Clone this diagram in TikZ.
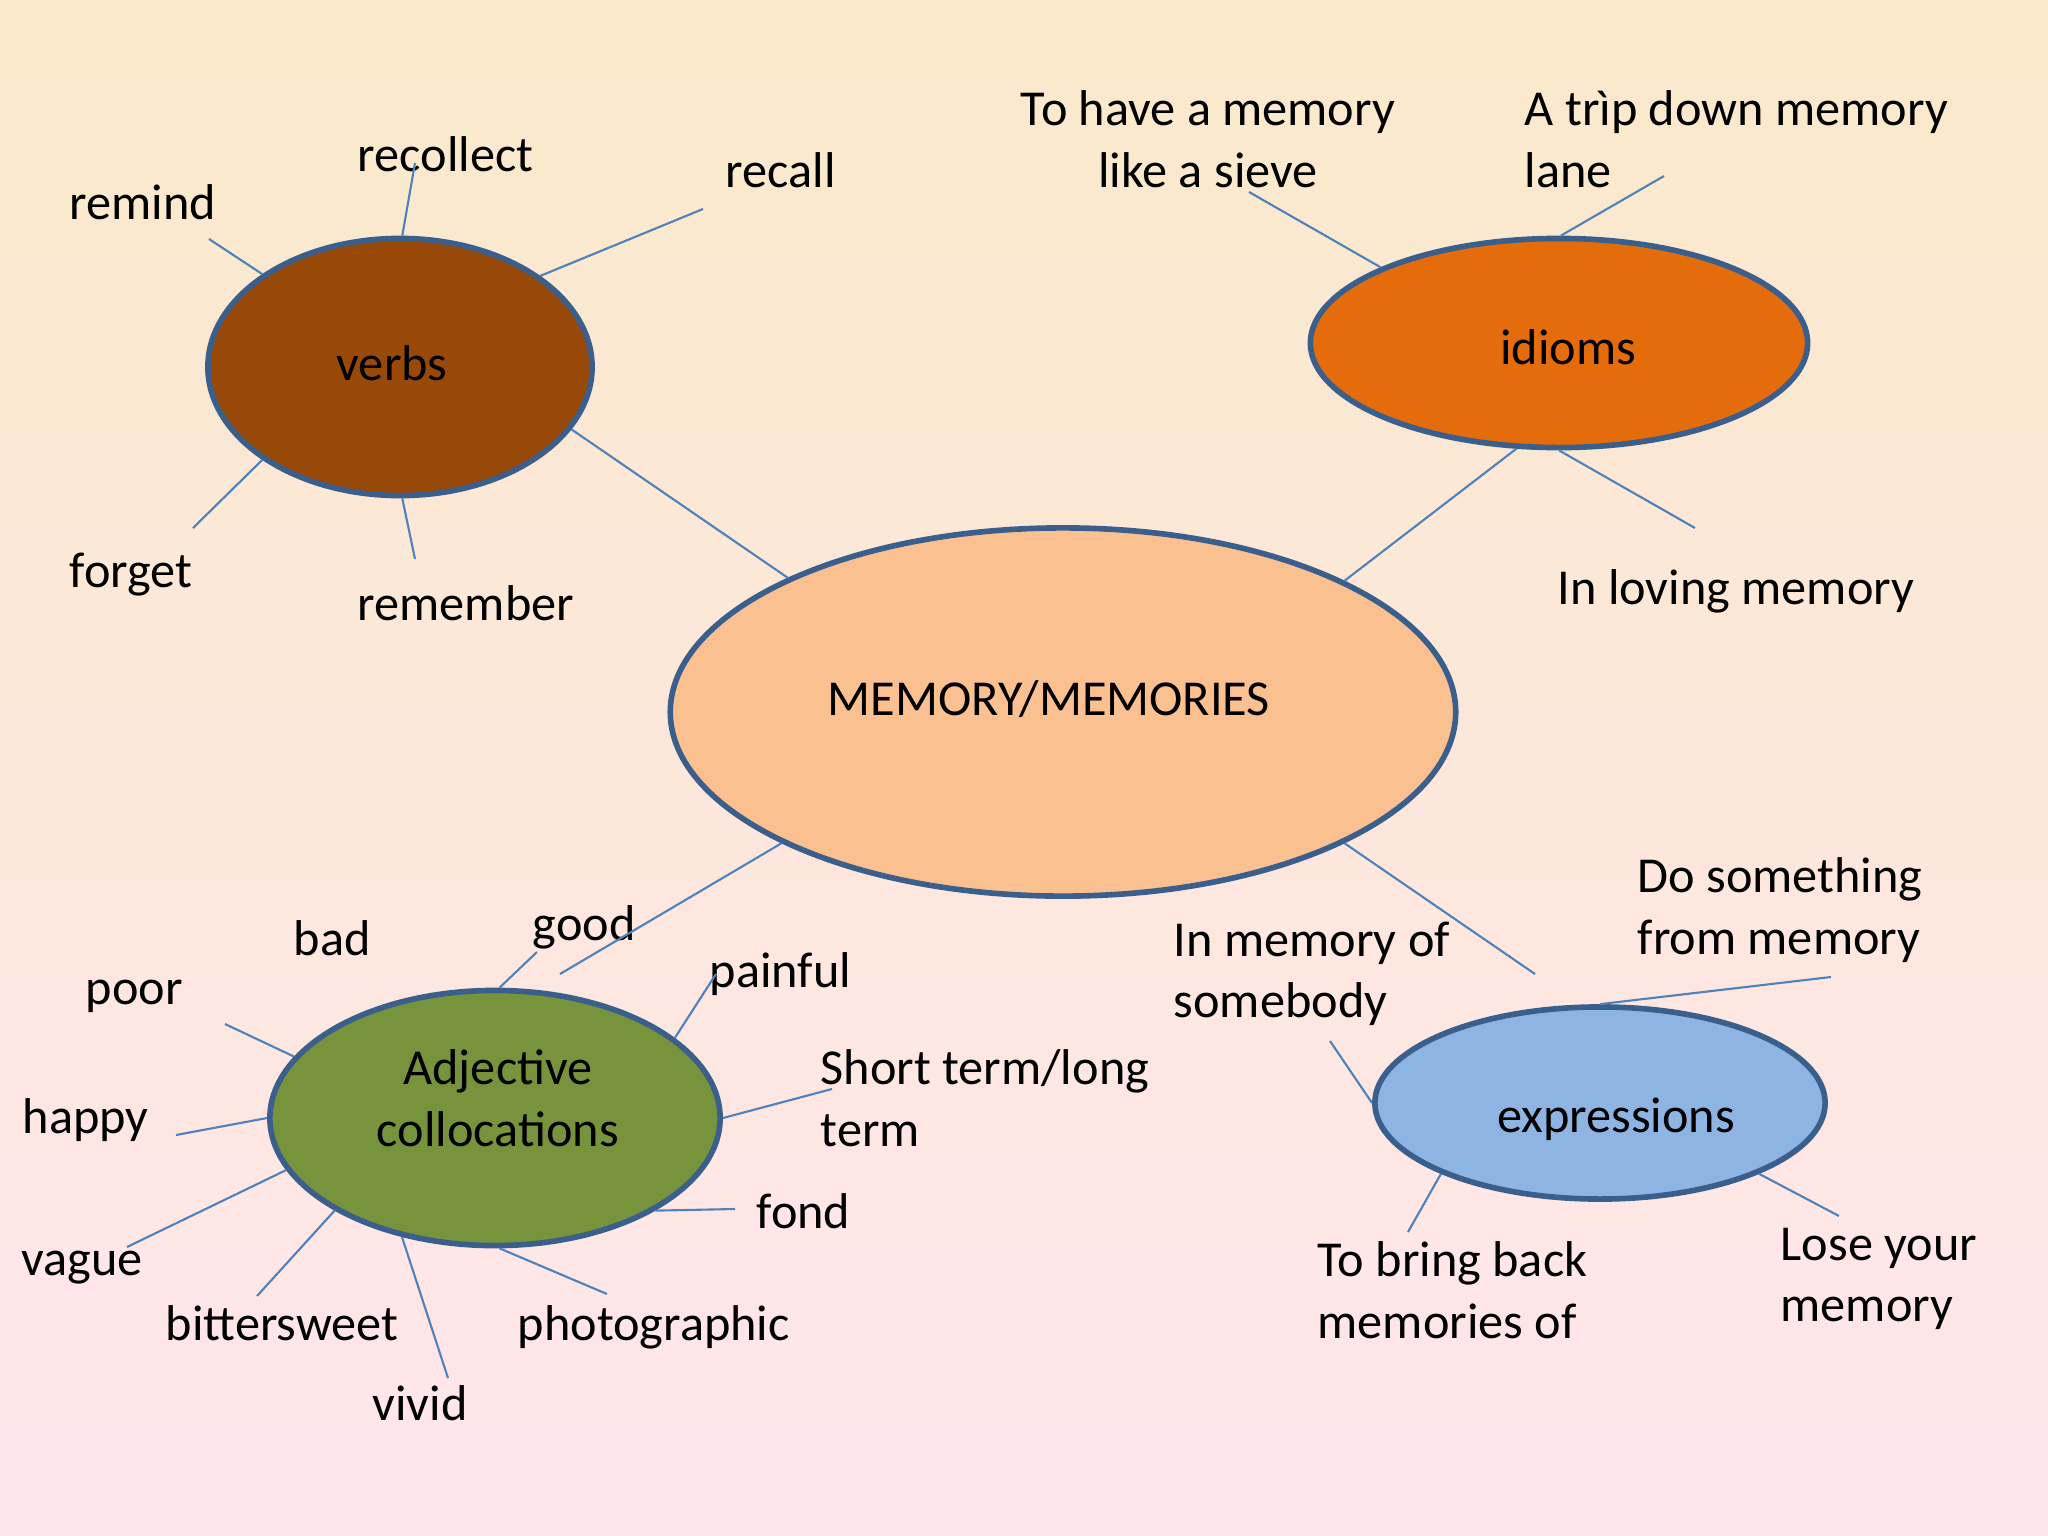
\documentclass[tikz,border=0pt]{standalone}
\usepackage{fontspec}
\setmainfont{Carlito}
\usepackage{tikz}
\usetikzlibrary{shapes.geometric}

\definecolor{bgtop}{HTML}{FAE9CA}
\definecolor{bgbot}{HTML}{FFE6EC}
\definecolor{rim}{HTML}{3A5F8C}
\definecolor{spokeblue}{HTML}{4F81BD}
\definecolor{memfill}{HTML}{FAC090}
\definecolor{verbfill}{HTML}{984807}
\definecolor{idiomfill}{HTML}{E46C0A}
\definecolor{adjfill}{HTML}{77933C}
\definecolor{exprfill}{HTML}{8EB4E3}
\newcommand\wordsize{\fontsize{14.3}{17.5}\selectfont}

\begin{document}
\begin{tikzpicture}[x=0.01cm, y=-0.01cm,
            bubble/.style={draw=rim, line width=1.6pt, ellipse, inner sep=0pt},
            title/.style={inner sep=0pt, align=center, font=\wordsize},
            spoke/.style={draw=spokeblue, line width=0.6pt},
            word/.style={anchor=west, inner sep=0pt, align=left, font=\wordsize}
        ]

        % --- background ---
        \shade[top color=bgtop, bottom color=bgbot] (0,0) rectangle (2048,1536);
        \useasboundingbox (0,0) rectangle (2048,1536);

        % --- bubbles ---
        \node[bubble, fill=memfill, minimum width=7.85cm, minimum height=3.68cm] (mem) at (1063,712) {};
        \node[bubble, fill=verbfill, minimum width=3.84cm, minimum height=2.57cm] (verbs) at (400,367) {};
        \node[bubble, fill=idiomfill, minimum width=4.97cm, minimum height=2.09cm] (idioms) at (1559,343) {};
        \node[bubble, fill=adjfill, minimum width=4.50cm, minimum height=2.55cm] (adj) at (495,1118) {};
        \node[bubble, fill=exprfill, minimum width=4.50cm, minimum height=1.92cm] (expr) at (1600,1103) {};
        \node[title] (memtext) at (1049,699) {MEMORY/MEMORIES};
        \node[title] (verbstext) at (392,363) {verbs};
        \node[title] (idiomstext) at (1568,347) {idioms};
        \node[title] (adjtext) at (498,1098) {Adjective\\collocations};
        \node[title] (exprtext) at (1616,1119) {expressions};

        % --- verbs ---
        \node[word] (remind) at (69,202) {remind};
        \node[word] (recollect) at (357,154) {recollect};
        \node[word] (recall) at (725,170) {recall};
        \node[word] (forget) at (69,575) {forget};
        \node[word] (remember) at (357,603) {remember};
        \coordinate (remindend) at (209,239);
        \coordinate (recollectend) at (415,163);
        \coordinate (recallend) at (703,209);
        \coordinate (forgetend) at (193,528);
        \coordinate (rememberend) at (415,559);
        \draw[spoke] (verbs.146) -- (remindend);
        \draw[spoke] (verbs.89) -- (recollectend);
        \draw[spoke] (verbs.33.5) -- (recallend);
        \draw[spoke] (verbs.214.5) -- (forgetend);
        \draw[spoke] (verbs.271) -- (rememberend);
        \draw[spoke] (verbs.-20) -- (mem.154.8);

        % --- idioms ---
        \node[word, anchor=center, align=center] (sieve) at (1208,139) {To have a memory\\like a sieve};
        \node[word] (lane) at (1524,139) {A trìp down memory\\lane};
        \node[word] (loving) at (1557,591) {In loving memory};
        \coordinate (sieveend) at (1249,192);
        \coordinate (laneend) at (1664,176);
        \coordinate (lovingend) at (1695,528);
        \draw[spoke] (idioms.157.2) -- (sieveend);
        \draw[spoke] (idioms.89) -- (laneend);
        \draw[spoke] (idioms.270) -- (lovingend);
        \draw[spoke] (idioms.248.8) -- (mem.25.4);

        % --- adjective collocations ---
        \node[word] (bad) at (293,938) {bad};
        \node[word] (good) at (532,927) {good};
        \node[word] (poor) at (85,996) {poor};
        \node[word] (painful) at (709,974) {painful};
        \node[word] (happy) at (22,1120) {happy};
        \node[word] (shortlong) at (820,1098) {Short term/long\\term};
        \node[word] (fond) at (756,1211) {fond};
        \node[word] (vague) at (21,1268) {vague};
        \node[word] (bitter) at (165,1323) {bittersweet};
        \node[word] (photo) at (517,1327) {photographic};
        \node[word] (vivid) at (372,1403) {vivid};
        \coordinate (memadjend) at (560,974);
        \coordinate (goodend) at (537,952);
        \coordinate (poorend) at (225,1024);
        \coordinate (happyend) at (176,1135);
        \coordinate (vagueend) at (127,1247);
        \coordinate (bitterend) at (257,1296);
        \coordinate (vividend) at (448,1378);
        \coordinate (photoend) at (607,1294);
        \coordinate (fondend) at (735,1209);
        \coordinate (shortend) at (832,1089);
        \coordinate (painfulend) at (716,974);
        \draw[spoke] (mem.205.1) -- (memadjend);
        \draw[spoke] (adj.88) -- (goodend);
        \draw[spoke] (adj.163) -- (poorend);
        \draw[spoke] (adj.180) -- (happyend);
        \draw[spoke] (adj.194) -- (vagueend);
        \draw[spoke] (adj.210.7) -- (bitterend);
        \draw[spoke] (adj.232) -- (vividend);
        \draw[spoke] (adj.272) -- (photoend);
        \draw[spoke] (adj.330) -- (fondend);
        \draw[spoke] (adj.0) -- (shortend);
        \draw[spoke] (adj.24.2) -- (painfulend);

        % --- expressions ---
        \node[word] (inmemory) at (1173,974) {In memory of\\somebody};
        \node[word] (dosome) at (1637,910) {Do something\\from memory};
        \node[word] (bringback) at (1317,1290) {To bring back\\memories of};
        \node[word] (lose) at (1780,1279) {Lose your\\memory};
        \coordinate (memexprend) at (1535,974);
        \coordinate (dosomeend) at (1831,977);
        \coordinate (inmemoryend) at (1330,1041);
        \coordinate (bringend) at (1408,1232);
        \coordinate (loseend) at (1839,1216);
        \draw[spoke] (mem.335.1) -- (memexprend);
        \draw[spoke] (expr.90) -- (dosomeend);
        \draw[spoke] (expr.180) -- (inmemoryend);
        \draw[spoke] (expr.204.2) -- (bringend);
        \draw[spoke] (expr.336.5) -- (loseend);

        \end{tikzpicture}
\end{document}
